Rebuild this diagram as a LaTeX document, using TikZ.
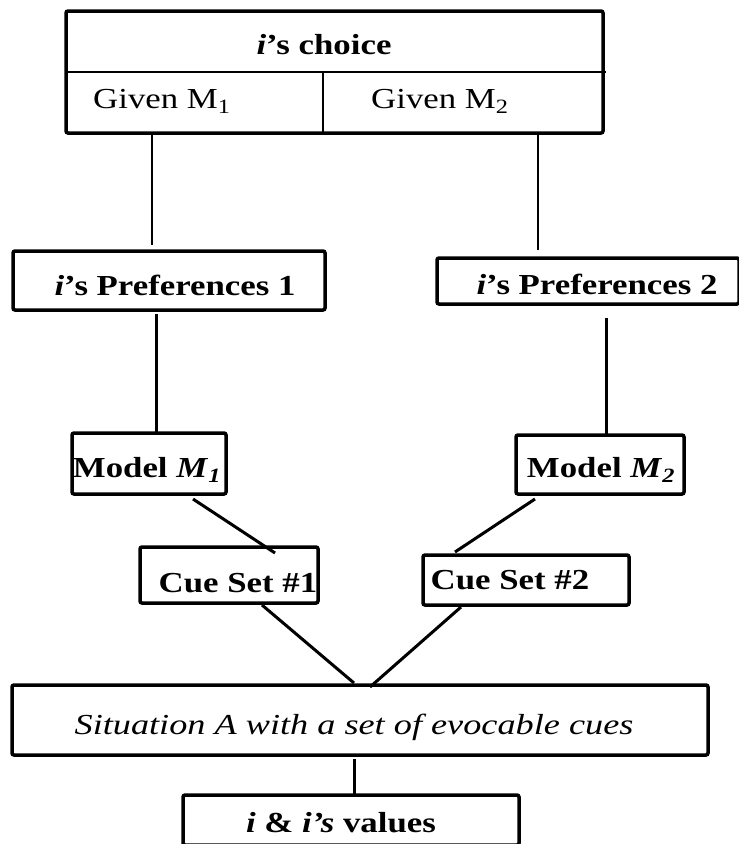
\documentclass[tikz,border=0pt]{standalone}
\usepackage{fontspec}
\setmainfont{Liberation Serif}
\usepackage{graphicx}
\newcommand{\sx}[1]{\scalebox{1.2}[1]{#1}}
\begin{document}
\begin{tikzpicture}[x=1pt,y=-1pt,
  box/.style={draw, line width=3.5pt, rounded corners=2pt, inner sep=0pt},
  lbl/.style={font=\fontsize{29}{32}\selectfont, inner sep=0pt},
  thinline/.style={line width=1.5pt},
  thickline/.style={line width=3pt}]
\useasboundingbox (0,0) rectangle (739,844);
\clip (0,0) rectangle (739,844);
% boxes
\node[box, minimum width=537pt, minimum height=122pt] (top) at (334.5,72) {};
\node[box, minimum width=312pt, minimum height=59pt] (pref1) at (169,280.5) {};
\node[box, minimum width=302pt, minimum height=46pt] (pref2) at (588,281) {};
\node[box, minimum width=154pt, minimum height=61pt] (mod1) at (149,463.5) {};
\node[box, minimum width=168pt, minimum height=59pt] (mod2) at (600,464.5) {};
\node[box, minimum width=178pt, minimum height=56pt] (cue1) at (229,575) {};
\node[box, minimum width=206pt, minimum height=50pt] (cue2) at (526,580) {};
\node[box, minimum width=696pt, minimum height=70pt] (sit) at (360,720) {};
\node[box, minimum width=336pt, minimum height=50pt] (val) at (351,820) {};
% top box dividers
\coordinate (dl) at (66,72);
\coordinate (dr) at (606,72);
\coordinate (vt) at (323,72);
\coordinate (vb) at (323,133);
\draw[line width=2pt] (dl) -- (dr);
\draw[thinline] (vt) -- (vb);
% labels
\node[lbl] (tchoice) at (324,45) {\sx{\textbf{\textit{i}’s choice}}};
\node[lbl, anchor=west] (tg1) at (93,101) {\sx{Given M\textsubscript{1}}};
\node[lbl, anchor=west] (tg2) at (371,101) {\sx{Given M\textsubscript{2}}};
\node[lbl] (tp1) at (175,285) {\sx{\textbf{\textit{i}’s Preferences 1}}};
\node[lbl] (tp2) at (597,284) {\sx{\textbf{\textit{i}’s Preferences 2}}};
\node[lbl] (tm1) at (147,470) {\sx{\textbf{Model \textit{M}\textsubscript{\textit{1}}}}};
\node[lbl] (tm2) at (601,470) {\sx{\textbf{Model \textit{M}\textsubscript{\textit{2}}}}};
\node[lbl] (tc1) at (238,583) {\sx{\textbf{Cue Set \#1}}};
\node[lbl] (tc2) at (510,580) {\sx{\textbf{Cue Set \#2}}};
\node[lbl] (tsit) at (354,727) {\scalebox{1.25}[1]{\textit{Situation A with a set of evocable cues}}};
\node[lbl] (tval) at (341,823) {\sx{\textbf{\textit{i} \& \textit{i’s}} \textbf{values}}};
% connector endpoints
\coordinate (a1) at (152,133);   \coordinate (a2) at (152,245);
\coordinate (b1) at (538,133);   \coordinate (b2) at (538,250);
\coordinate (c1) at (156,314);   \coordinate (c2) at (156,433);
\coordinate (d1) at (606,318);   \coordinate (d2) at (606,435);
\coordinate (e1) at (193,499);   \coordinate (e2) at (275,553);
\coordinate (f1) at (535,499);   \coordinate (f2) at (455,552);
\coordinate (g1) at (262,605);   \coordinate (g2) at (354,683);
\coordinate (h1) at (461,607);   \coordinate (h2) at (370,687);
\coordinate (k1) at (354,759);   \coordinate (k2) at (354,797);
\draw[thinline] (a1) -- (a2);
\draw[thinline] (b1) -- (b2);
\draw[thickline] (c1) -- (c2);
\draw[thickline] (d1) -- (d2);
\draw[thickline] (e1) -- (e2);
\draw[thickline] (f1) -- (f2);
\draw[thickline] (g1) -- (g2);
\draw[thickline] (h1) -- (h2);
\draw[thickline] (k1) -- (k2);
\end{tikzpicture}
\end{document}
